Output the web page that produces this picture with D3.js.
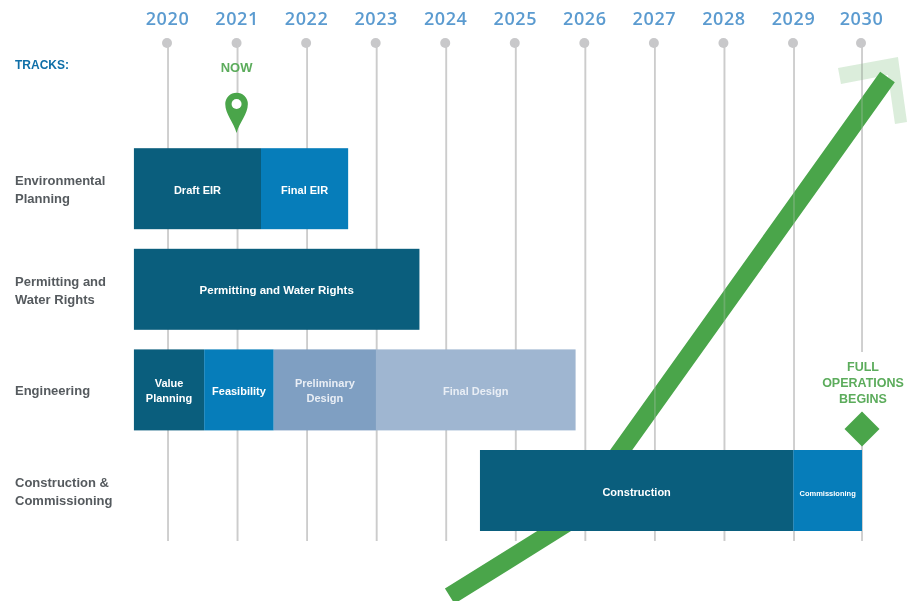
<!DOCTYPE html>
<html>
<head>
<meta charset="utf-8">
<script src="https://cdnjs.cloudflare.com/ajax/libs/d3/7.8.5/d3.min.js"></script>
<style>
  html, body { margin: 0; padding: 0; background: #fff; }
  svg { display: block; filter: blur(0.4px); }
  text { font-family: "Liberation Sans", Arial, sans-serif; }
</style>
</head>
<body>
<div id="chart"></div>
<script>
// --- data, all in years and track rows
var years = [2020, 2021, 2022, 2023, 2024, 2025, 2026, 2027, 2028, 2029, 2030];
var trackNames = [
  ["Environmental", "Planning"],
  ["Permitting and", "Water Rights"],
  ["Engineering"],
  ["Construction &", "Commissioning"]
];

var phaseNames = [["Draft EIR"], ["Final EIR"], ["Permitting and Water Rights"],
  ["Value", "Planning"], ["Feasibility"], ["Preliminary", "Design"], ["Final Design"],
  ["Construction"], ["Commissioning"]];
var phaseTrack = [0, 0, 1, 2, 2, 2, 2, 3, 3];
var phaseStart = [2019.51, 2021.337, 2019.51, 2019.51, 2020.52, 2021.52, 2022.99, 2024.485, 2028.99];
var phaseEnd   = [2021.337, 2022.59, 2023.615, 2020.52, 2021.52, 2022.99, 2025.86, 2028.99, 2030];
var phaseShade = ["dark", "blue", "dark", "dark", "blue", "mid", "light", "dark", "blue"];
var phaseSize  = [11, 11, 11.5, 11, 11, 11, 11, 11, 7.5];

// trend arrow, [year, track row]
var trendLine = [[2024.05, 4.05], [2025.79, 3.3], [2030.375, -1.11]];
var trendHead = [[2029.647, -1.2], [2030.529, -1.309], [2030.662, -0.663],
  [2030.485, -0.643], [2030.382, -1.13], [2029.691, -1.041]];

var nowYear = 2021;
var finishYear = 2030;

// --- layout
var width = 907, height = 601;
var colors = { dark: "#0a5e7d", blue: "#067dba", mid: "#7f9fc2", light: "#9fb6d1" };
var green = "#4aa54a";

var x = d3.scaleLinear().domain([2020, 2029, 2030]).range([168, 794, 862]);
var y = d3.scaleLinear().domain([0, 3]).range([188.7, 490.5]);
var barHeight = 81;

var svg = d3.select("#chart").append("svg")
    .attr("width", width)
    .attr("height", height);

function drawGrid(opacity) {
  svg.append("g").selectAll("line")
      .data(years).enter()
      .append("line")
      .attr("x1", function(d) { return x(d); })
      .attr("x2", function(d) { return x(d); })
      .attr("y1", 43)
      .attr("y2", 541)
      .attr("stroke", "#cccccc")
      .attr("stroke-opacity", opacity)
      .attr("stroke-width", 1.8);
}

// gridlines
drawGrid(1);

svg.append("g").selectAll("circle")
    .data(years).enter()
    .append("circle")
    .attr("cx", function(d) { return x(d) - 1; })
    .attr("cy", 43)
    .attr("r", 5)
    .attr("fill", "#c8c8ca");

svg.append("g").selectAll("text")
    .data(years).enter()
    .append("text")
    .attr("x", function(d) { return x(d) - 0.5; })
    .attr("y", 25)
    .attr("text-anchor", "middle")
    .attr("fill", "#5b9bd0")
    .attr("font-weight", 600)
    .style("font-family", "'Open Sans'")
    .style("font-size", "18px")
    .style("letter-spacing", "0.6px")
    .text(function(d) { return d; });

// arrow
var line = d3.line()
    .x(function(d) { return x(d[0]); })
    .y(function(d) { return y(d[1]); });

svg.append("path")
    .attr("d", line(trendHead) + "Z")
    .attr("fill", green)
    .attr("fill-opacity", 0.2);

svg.append("path")
    .attr("d", line(trendLine))
    .attr("fill", "none")
    .attr("stroke", green)
    .attr("stroke-width", 18);

// gridlines show faintly through the arrow
drawGrid(0.25);

// bars
var bars = svg.append("g").selectAll("g")
    .data(phaseNames).enter()
    .append("g");

bars.append("rect")
    .attr("x", function(d, i) { return x(phaseStart[i]); })
    .attr("y", function(d, i) { return y(phaseTrack[i]) - barHeight / 2; })
    .attr("width", function(d, i) { return x(phaseEnd[i]) - x(phaseStart[i]); })
    .attr("height", barHeight)
    .attr("fill", function(d, i) { return colors[phaseShade[i]]; });

bars.each(function(d, i) {
  var cx = (x(phaseStart[i]) + x(phaseEnd[i])) / 2;
  var cy = y(phaseTrack[i]);
  var t = d3.select(this).append("text")
      .attr("text-anchor", "middle")
      .attr("fill", phaseShade[i] == "mid" || phaseShade[i] == "light" ? "#e9eef5" : "#ffffff")
      .attr("font-weight", "bold")
      .style("font-size", phaseSize[i] + "px");
  d.forEach(function(s, j) {
    t.append("tspan")
      .attr("x", cx)
      .attr("y", cy + 5 + (j - (d.length - 1) / 2) * 15)
      .text(s);
  });
});

// track labels
svg.append("text")
    .attr("x", 15).attr("y", 69)
    .attr("fill", "#0f6fa8")
    .attr("font-weight", "bold")
    .style("font-size", "12px")
    .text("TRACKS:");

svg.append("g").selectAll("text")
    .data(trackNames).enter()
    .append("text")
    .attr("fill", "#555a5e")
    .attr("font-weight", "bold")
    .style("font-size", "13px")
    .each(function(d, i) {
      var sel = d3.select(this);
      d.forEach(function(s, j) {
        sel.append("tspan")
          .attr("x", 15)
          .attr("y", y(i) + 5.5 + (j - (d.length - 1) / 2) * 18)
          .text(s);
      });
    });

// now marker
var nowX = x(nowYear) - 1;
svg.append("text")
    .attr("x", nowX).attr("y", 72)
    .attr("text-anchor", "middle")
    .attr("fill", "#5cac5c")
    .attr("font-weight", "bold")
    .style("font-size", "13px")
    .text("NOW");

svg.append("path")
    .attr("transform", "translate(" + nowX + ",104)")
    .attr("d", "M0,29 C-3,18 -11.3,10 -11.3,0 A11.3,11.3 0 1 1 11.3,0 C11.3,10 3,18 0,29Z")
    .attr("fill", green);
svg.append("circle")
    .attr("cx", nowX).attr("cy", 104).attr("r", 5).attr("fill", "#fff");

// finish marker
var finishX = x(finishYear);
svg.append("rect")
    .attr("x", finishX - 3).attr("y", 352)
    .attr("width", 6).attr("height", 60)
    .attr("fill", "#fff");

var finishLabel = ["FULL", "OPERATIONS", "BEGINS"];
svg.append("g").selectAll("text")
    .data(finishLabel).enter()
    .append("text")
    .attr("x", finishX + 1)
    .attr("y", function(d, i) { return 371 + i * 16; })
    .attr("text-anchor", "middle")
    .attr("fill", "#5cac5c")
    .attr("font-weight", "bold")
    .style("font-size", "12.5px")
    .text(function(d) { return d; });

svg.append("path")
    .attr("d", d3.symbol().type(d3.symbolSquare).size(2 * 17.5 * 17.5))
    .attr("transform", "translate(" + finishX + ",429) rotate(45)")
    .attr("fill", green);
</script>
</body>
</html>
